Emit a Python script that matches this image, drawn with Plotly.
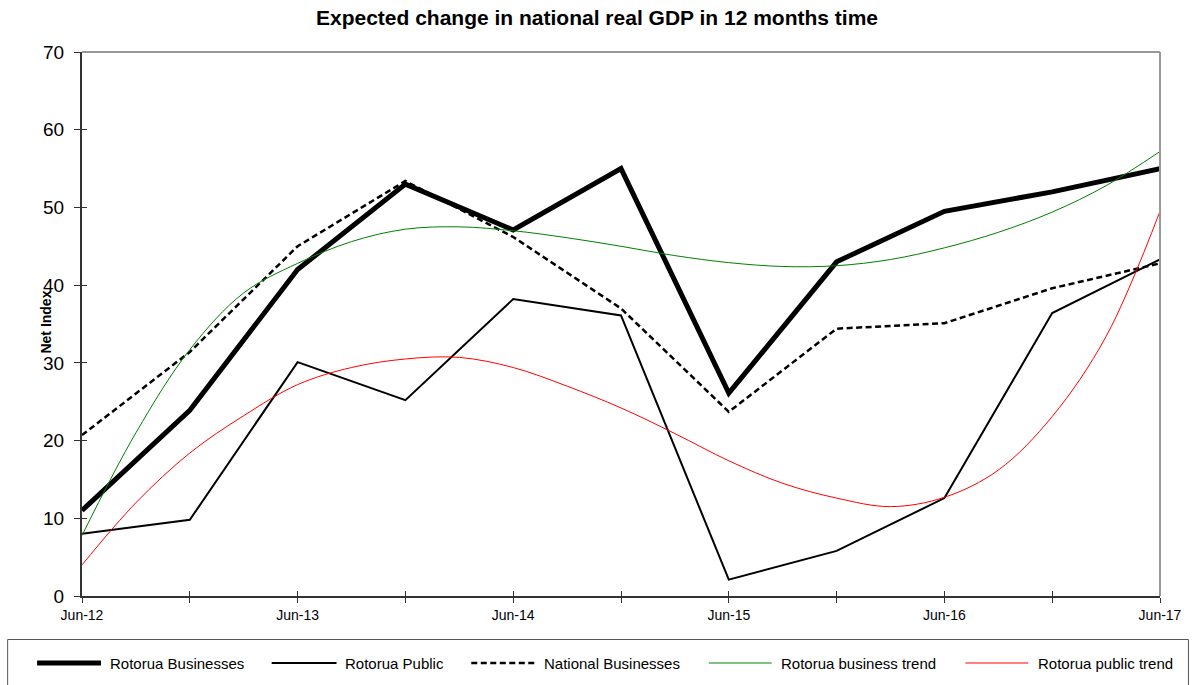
import plotly.graph_objects as go

# ---------------- data ----------------
periods = ["Jun-12", "Dec-12", "Jun-13", "Dec-13", "Jun-14", "Dec-14",
           "Jun-15", "Dec-15", "Jun-16", "Dec-16", "Jun-17"]
tick_labels = ["Jun-12", "", "Jun-13", "", "Jun-14", "", "Jun-15", "", "Jun-16", "", "Jun-17"]

rotorua_businesses = [11.0, 23.9, 42.0, 53.0, 47.1, 55.0, 26.1, 43.0, 49.5, 52.0, 55.0]
rotorua_public = [8.0, 9.8, 30.1, 25.2, 38.2, 36.1, 2.1, 5.8, 12.6, 36.4, 43.3]
national_businesses = [20.7, 31.4, 45.0, 53.4, 46.2, 37.0, 23.7, 34.4, 35.1, 39.6, 42.8]

# trend curves read at every quarter (half-period) position
trend_pos = [i * 0.5 for i in range(21)]
business_trend = [7.8, 21.0, 31.7, 39.0, 42.8, 45.6, 47.2, 47.5, 47.0, 46.1, 45.0,
                  43.8, 42.9, 42.4, 42.5, 43.3, 44.8, 46.8, 49.4, 52.8, 57.2]
public_trend = [4.0, 12.0, 18.4, 23.2, 27.2, 29.4, 30.5, 30.7, 29.4, 27.0, 24.2,
                20.9, 17.4, 14.5, 12.6, 11.5, 12.7, 16.2, 23.1, 33.4, 49.5]

series_names = ["Rotorua Businesses", "Rotorua Public", "National Businesses",
                "Rotorua business trend", "Rotorua public trend"]

# ---------------- layout geometry ----------------
W, H = 1194, 685
L, R, T, B = 82, 32, 52, 89
PW, PH = W - L - R, H - T - B


def px2x(px):
    return (px - L) / PW


def py2y(py):
    return (H - B - py) / PH


idx = list(range(len(periods)))
FONT = "Liberation Sans, Arial, sans-serif"

fig = go.Figure()

styles = [
    dict(color="black", width=5),
    dict(color="black", width=2),
    dict(color="black", width=2.5, dash="6px,3.5px"),
    dict(color="#008000", width=1),
    dict(color="#ff0000", width=1),
]

fig.add_trace(go.Scatter(x=idx, y=rotorua_businesses, mode="lines", name=series_names[0],
                         line=styles[0], customdata=periods, showlegend=False))
fig.add_trace(go.Scatter(x=idx, y=rotorua_public, mode="lines", name=series_names[1],
                         line=styles[1], customdata=periods, showlegend=False))
fig.add_trace(go.Scatter(x=idx, y=national_businesses, mode="lines", name=series_names[2],
                         line=styles[2], customdata=periods, showlegend=False))
fig.add_trace(go.Scatter(x=trend_pos, y=business_trend, mode="lines", name=series_names[3],
                         line=dict(**styles[3], shape="spline", smoothing=1), showlegend=False))
fig.add_trace(go.Scatter(x=trend_pos, y=public_trend, mode="lines", name=series_names[4],
                         line=dict(**styles[4], shape="spline", smoothing=1), showlegend=False))
# dummy trace so overlay axes (inner half of crossing ticks) are drawn
fig.add_trace(go.Scatter(x=[], y=[], xaxis="x2", yaxis="y2", showlegend=False, hoverinfo="skip"))

fig.update_layout(
    width=W, height=H,
    margin=dict(l=L, r=R, t=T, b=B),
    paper_bgcolor="white", plot_bgcolor="white",
    font=dict(family=FONT, color="black"),
    showlegend=False,
    title=dict(text="<b>Expected change in national real GDP in 12 months time</b>",
               x=0.5, xref="container", xanchor="center",
               y=1 - 18 / H, yref="container", yanchor="middle",
               font=dict(family="Liberation Sans, Arial", size=21, color="black")),
    xaxis=dict(range=[0, 10], tickmode="array", tickvals=idx, ticktext=tick_labels,
               showgrid=False, zeroline=False, showline=True, linecolor="#333333", linewidth=2,
               ticks="outside", ticklen=5, tickwidth=1, tickcolor="#333333",
               tickfont=dict(size=14, family=FONT), fixedrange=True),
    yaxis=dict(range=[0, 70], tickmode="array", tickvals=list(range(0, 71, 10)),
               showgrid=False, zeroline=False, showline=True, linecolor="#333333", linewidth=2,
               ticks="outside", ticklen=6, tickwidth=1, tickcolor="#333333",
               ticklabelstandoff=6,
               tickfont=dict(size=19, family=FONT), fixedrange=True),
    xaxis2=dict(range=[0, 10], overlaying="x", side="bottom", tickmode="array", tickvals=idx,
                showticklabels=False, showgrid=False, zeroline=False, showline=False,
                ticks="inside", ticklen=5, tickwidth=1, tickcolor="#333333", fixedrange=True),
    yaxis2=dict(range=[0, 70], overlaying="y", side="left", tickmode="array",
                tickvals=list(range(0, 71, 10)), showticklabels=False, showgrid=False,
                zeroline=False, showline=False, ticks="inside", ticklen=5, tickwidth=1,
                tickcolor="#333333", fixedrange=True),
)

shapes = []
# top and right plot borders (gray)
shapes.append(dict(type="line", xref="paper", yref="paper", x0=0, x1=1, y0=1, y1=1,
                   line=dict(color="#999999", width=2)))
shapes.append(dict(type="line", xref="paper", yref="paper", x0=1, x1=1, y0=0, y1=1,
                   line=dict(color="#999999", width=2)))
# legend box
shapes.append(dict(type="rect", xref="paper", yref="paper",
                   x0=px2x(7.5), x1=px2x(1190.5), y0=py2y(639.5), y1=py2y(700),
                   line=dict(color="#555555", width=1), fillcolor="rgba(0,0,0,0)", layer="below"))

legend_y = 663
legend_items = [  # sample start, sample end, text start
    (37, 101, 108),
    (272, 337, 343),
    (472, 537, 543),
    (710, 773, 780),
    (967, 1030, 1038),
]
annotations = []
for (s0, s1, tx), name, st in zip(legend_items, series_names, styles):
    ln = dict(color=st["color"], width=st["width"])
    if "dash" in st:
        ln["dash"] = st["dash"]
    shapes.append(dict(type="line", xref="paper", yref="paper",
                       x0=px2x(s0), x1=px2x(s1), y0=py2y(legend_y), y1=py2y(legend_y), line=ln))
    annotations.append(dict(text=name, xref="paper", yref="paper", x=px2x(tx), y=py2y(legend_y),
                            xanchor="left", yanchor="middle", showarrow=False,
                            font=dict(size=15, family=FONT, color="black")))

# y-axis title
annotations.append(dict(text="<b>Net Index</b>", xref="paper", yref="paper",
                        x=px2x(45.5), y=py2y(322), textangle=-90,
                        xanchor="center", yanchor="middle", showarrow=False,
                        font=dict(size=14, family=FONT, color="black")))

fig.update_layout(shapes=shapes, annotations=annotations)

fig.write_html("out.html", config={"displayModeBar": False},
               post_script="document.body.style.margin='0';document.body.style.padding='0';")
